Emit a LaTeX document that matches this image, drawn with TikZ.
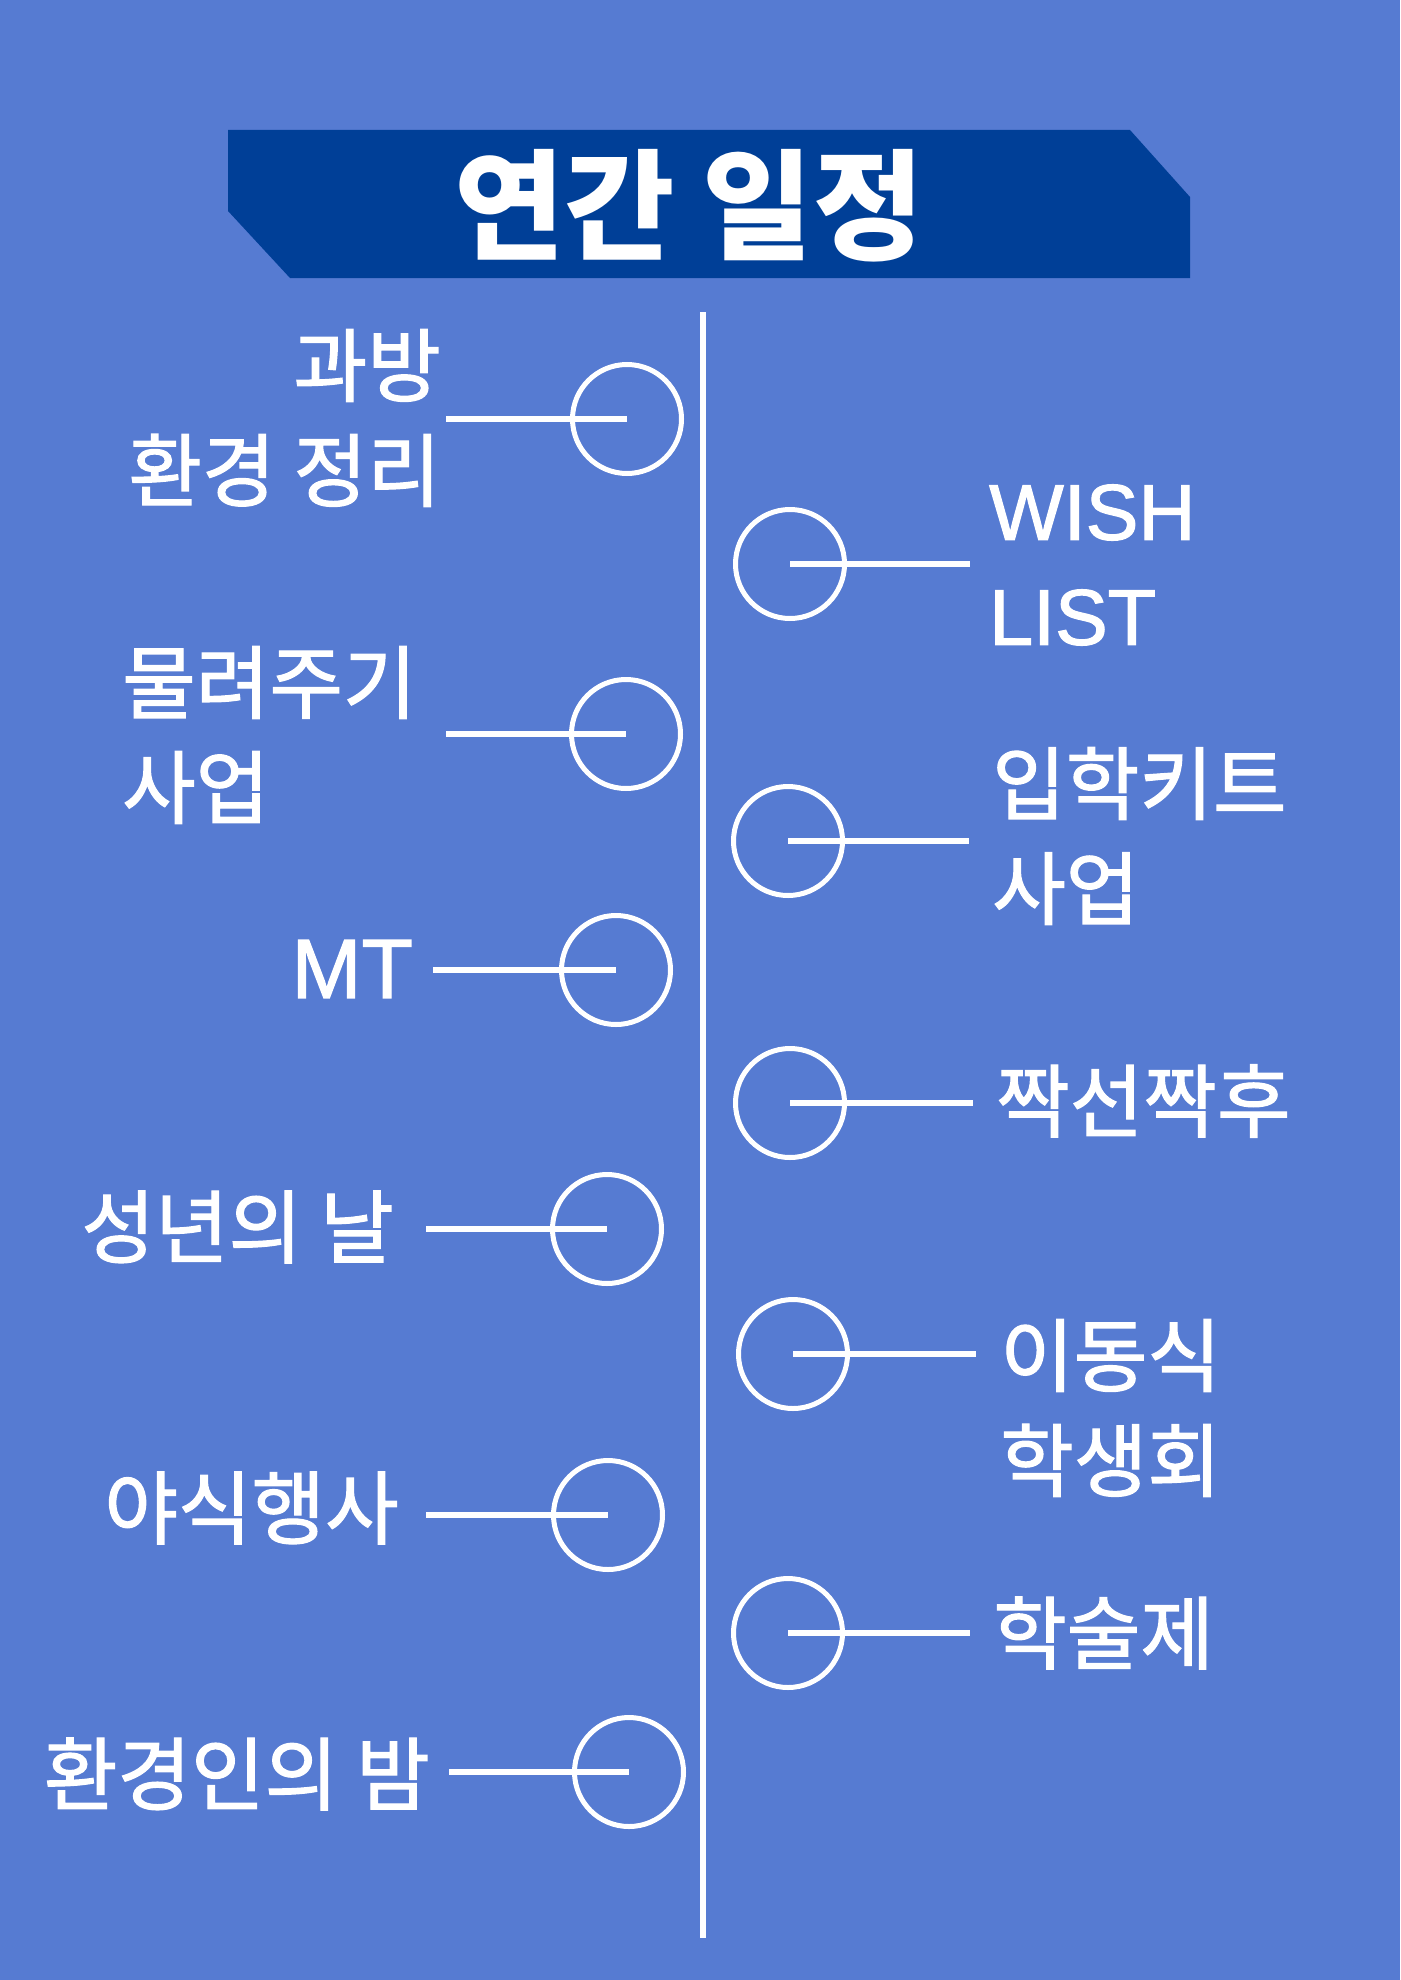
\documentclass[tikz,border=0pt]{standalone}
\usepackage{fontspec}
\setmainfont{Noto Sans CJK KR}[FakeBold=1.5]
\newfontfamily\titlefont{Noto Sans CJK KR}
\newfontfamily\latinfont{Liberation Sans}[FakeBold=1.5]
\usetikzlibrary{calc}
\definecolor{bgblue}{RGB}{86,123,210}
\definecolor{bannerblue}{RGB}{0,63,151}

\begin{document}
\begin{tikzpicture}
	[x=1pt,y=-1pt,
	cnode/.style={draw=white,line width=5pt,circle,minimum size=109pt,inner sep=0pt},
	etext/.style={text=white,inner sep=0pt,font=\fontsize{80}{105}\selectfont},
	]
	\tikzset{normal line/.style={draw=white,line width=6.5pt}}
	\useasboundingbox (0,0) rectangle (1400,1980);
	\fill[bgblue] (0,0) rectangle (1400,1980);
	
	% banner
	\fill[bannerblue] (228,130) -- (1130,130) -- (1190,197) -- (1190,278)
		-- (290,278) -- (228,211) -- cycle;
	\node[text=white,inner sep=0pt,font=\fontsize{120}{120}\titlefont\bfseries] (title) at (689,206) {연간 일정};
	
	% timeline
	\coordinate (top) at (703,312);
	\coordinate (bot) at (703,1938);
	\path[normal line] (top) -- (bot);
	
	% left side
	\foreach \i/\x/\y/\e in {1/627/419/446, 2/626/734/446, 3/616/970/433,
		4/607/1229/426, 5/608/1515/426, 6/629/1772/449}
	{
		\node[cnode] (l-\i) at (\x,\y) {};
		\coordinate (le-\i) at (\e,\y);
		\path[normal line] (le-\i) -- (l-\i.center);
	}
	
	% right side
	\foreach \i/\x/\y/\e in {1/790/564/970, 2/788/841/969, 3/790/1103/973,
		4/793/1354/976, 5/788/1633/970}
	{
		\node[cnode] (r-\i) at (\x,\y) {};
		\coordinate (re-\i) at (\e,\y);
		\path[normal line] (r-\i.center) -- (re-\i);
	}
	
	\node[etext,align=right,anchor=east] (lt-1) at (441,418) {과방\hspace{14pt}\\환경 정리};
	\node[etext,align=left,anchor=west] (lt-2) at (122,735) {물려주기\\사업};
	\node[etext,anchor=east,font=\fontsize{84}{84}\latinfont] (lt-3) at (413,969) {MT};
	\node[etext,anchor=east] (lt-4) at (394,1227) {성년의 날};
	\node[etext,anchor=east] (lt-5) at (399,1508) {야식행사};
	\node[etext,anchor=east] (lt-6) at (430,1774) {환경인의 밤};
	
	\node[etext,align=left,anchor=west,font=\fontsize{79}{105}\latinfont] (rt-1) at (989,565) {WISH\\LIST};
	\node[etext,align=left,anchor=west] (rt-2) at (992,836) {입학키트\\사업};
	\node[etext,anchor=west] (rt-3) at (996,1101) {짝선짝후};
	\node[etext,align=left,anchor=west] (rt-4) at (1000,1408) {이동식\\학생회};
	\node[etext,anchor=west] (rt-5) at (993,1633) {학술제};
	
\end{tikzpicture}
\end{document}
